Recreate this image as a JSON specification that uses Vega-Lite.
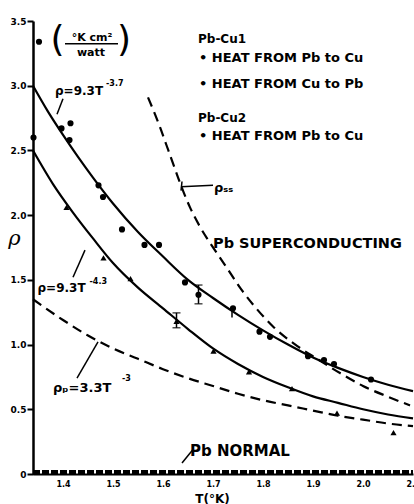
{
  "$schema": "https://vega.github.io/schema/vega-lite/v6.json",
  "width": 380,
  "height": 453,
  "autosize": {"type": "none"},
  "padding": {"left": 33, "top": 21, "right": 1, "bottom": 30},
  "background": "white",
  "config": {
    "font": "DejaVu Sans",
    "view": {"stroke": null},
    "axis": {"grid": false, "domainColor": "black", "tickColor": "black", "labelColor": "black", "titleColor": "black", "labelFont": "DejaVu Sans", "labelFontWeight": "bold"}
  },
  "datasets": {
    "curves": [
      {"curve": "fit1", "T": 1.34, "rho": 3.0}, {"curve": "fit1", "T": 1.37, "rho": 2.8}, {"curve": "fit1", "T": 1.4, "rho": 2.62}, {"curve": "fit1", "T": 1.43, "rho": 2.45}, {"curve": "fit1", "T": 1.46, "rho": 2.29}, {"curve": "fit1", "T": 1.5, "rho": 2.09}, {"curve": "fit1", "T": 1.55, "rho": 1.87}, {"curve": "fit1", "T": 1.6, "rho": 1.68}, {"curve": "fit1", "T": 1.65, "rho": 1.5}, {"curve": "fit1", "T": 1.7, "rho": 1.36}, {"curve": "fit1", "T": 1.75, "rho": 1.23}, {"curve": "fit1", "T": 1.8, "rho": 1.11}, {"curve": "fit1", "T": 1.85, "rho": 1.0}, {"curve": "fit1", "T": 1.9, "rho": 0.9}, {"curve": "fit1", "T": 1.95, "rho": 0.82}, {"curve": "fit1", "T": 2.0, "rho": 0.75}, {"curve": "fit1", "T": 2.05, "rho": 0.69}, {"curve": "fit1", "T": 2.1, "rho": 0.64},
      {"curve": "fit2", "T": 1.34, "rho": 2.5}, {"curve": "fit2", "T": 1.38, "rho": 2.24}, {"curve": "fit2", "T": 1.42, "rho": 2.02}, {"curve": "fit2", "T": 1.46, "rho": 1.82}, {"curve": "fit2", "T": 1.5, "rho": 1.63}, {"curve": "fit2", "T": 1.55, "rho": 1.44}, {"curve": "fit2", "T": 1.6, "rho": 1.28}, {"curve": "fit2", "T": 1.65, "rho": 1.12}, {"curve": "fit2", "T": 1.7, "rho": 0.97}, {"curve": "fit2", "T": 1.75, "rho": 0.85}, {"curve": "fit2", "T": 1.8, "rho": 0.75}, {"curve": "fit2", "T": 1.85, "rho": 0.67}, {"curve": "fit2", "T": 1.9, "rho": 0.6}, {"curve": "fit2", "T": 1.95, "rho": 0.55}, {"curve": "fit2", "T": 2.0, "rho": 0.5}, {"curve": "fit2", "T": 2.05, "rho": 0.46}, {"curve": "fit2", "T": 2.1, "rho": 0.43},
      {"curve": "rho_p", "T": 1.34, "rho": 1.35}, {"curve": "rho_p", "T": 1.4, "rho": 1.19}, {"curve": "rho_p", "T": 1.45, "rho": 1.07}, {"curve": "rho_p", "T": 1.5, "rho": 0.97}, {"curve": "rho_p", "T": 1.55, "rho": 0.89}, {"curve": "rho_p", "T": 1.6, "rho": 0.81}, {"curve": "rho_p", "T": 1.65, "rho": 0.74}, {"curve": "rho_p", "T": 1.7, "rho": 0.68}, {"curve": "rho_p", "T": 1.75, "rho": 0.62}, {"curve": "rho_p", "T": 1.8, "rho": 0.57}, {"curve": "rho_p", "T": 1.85, "rho": 0.53}, {"curve": "rho_p", "T": 1.9, "rho": 0.49}, {"curve": "rho_p", "T": 1.95, "rho": 0.45}, {"curve": "rho_p", "T": 2.0, "rho": 0.42}, {"curve": "rho_p", "T": 2.05, "rho": 0.39}, {"curve": "rho_p", "T": 2.1, "rho": 0.37},
      {"curve": "rho_ss", "T": 1.57, "rho": 2.91}, {"curve": "rho_ss", "T": 1.594, "rho": 2.68}, {"curve": "rho_ss", "T": 1.607, "rho": 2.54}, {"curve": "rho_ss", "T": 1.62, "rho": 2.4}, {"curve": "rho_ss", "T": 1.634, "rho": 2.25}, {"curve": "rho_ss", "T": 1.654, "rho": 2.06}, {"curve": "rho_ss", "T": 1.674, "rho": 1.91}, {"curve": "rho_ss", "T": 1.702, "rho": 1.74}, {"curve": "rho_ss", "T": 1.73, "rho": 1.58}, {"curve": "rho_ss", "T": 1.754, "rho": 1.44}, {"curve": "rho_ss", "T": 1.78, "rho": 1.31}, {"curve": "rho_ss", "T": 1.82, "rho": 1.14}, {"curve": "rho_ss", "T": 1.868, "rho": 0.99}, {"curve": "rho_ss", "T": 1.908, "rho": 0.89}, {"curve": "rho_ss", "T": 1.954, "rho": 0.78}, {"curve": "rho_ss", "T": 2.0, "rho": 0.68}, {"curve": "rho_ss", "T": 2.048, "rho": 0.6}, {"curve": "rho_ss", "T": 2.094, "rho": 0.53},
      {"curve": "normal", "T": 1.34, "rho": 0.012}, {"curve": "normal", "T": 2.1, "rho": 0.012}
    ],
    "points": [
      {"series": "Pb-Cu1 Pb to Cu", "T": 1.352, "rho": 3.34},
      {"series": "Pb-Cu1 Pb to Cu", "T": 1.341, "rho": 2.6},
      {"series": "Pb-Cu1 Pb to Cu", "T": 1.397, "rho": 2.67},
      {"series": "Pb-Cu1 Cu to Pb", "T": 1.415, "rho": 2.71},
      {"series": "Pb-Cu1 Pb to Cu", "T": 1.413, "rho": 2.58},
      {"series": "Pb-Cu1 Pb to Cu", "T": 1.471, "rho": 2.23},
      {"series": "Pb-Cu1 Cu to Pb", "T": 1.48, "rho": 2.14},
      {"series": "Pb-Cu1 Pb to Cu", "T": 1.518, "rho": 1.89},
      {"series": "Pb-Cu1 Pb to Cu", "T": 1.563, "rho": 1.77},
      {"series": "Pb-Cu1 Cu to Pb", "T": 1.592, "rho": 1.77},
      {"series": "Pb-Cu1 Pb to Cu", "T": 1.644, "rho": 1.48},
      {"series": "Pb-Cu1 Pb to Cu", "T": 1.671, "rho": 1.385},
      {"series": "Pb-Cu1 Cu to Pb", "T": 1.74, "rho": 1.28},
      {"series": "Pb-Cu1 Pb to Cu", "T": 1.793, "rho": 1.1},
      {"series": "Pb-Cu1 Cu to Pb", "T": 1.814, "rho": 1.06},
      {"series": "Pb-Cu1 Pb to Cu", "T": 1.89, "rho": 0.91},
      {"series": "Pb-Cu1 Pb to Cu", "T": 1.922, "rho": 0.88},
      {"series": "Pb-Cu1 Cu to Pb", "T": 1.942, "rho": 0.85},
      {"series": "Pb-Cu1 Pb to Cu", "T": 2.016, "rho": 0.73},
      {"series": "Pb-Cu2", "T": 1.407, "rho": 2.06},
      {"series": "Pb-Cu2", "T": 1.481, "rho": 1.67},
      {"series": "Pb-Cu2", "T": 1.535, "rho": 1.51},
      {"series": "Pb-Cu2", "T": 1.627, "rho": 1.18},
      {"series": "Pb-Cu2", "T": 1.701, "rho": 0.95},
      {"series": "Pb-Cu2", "T": 1.772, "rho": 0.79},
      {"series": "Pb-Cu2", "T": 1.858, "rho": 0.66},
      {"series": "Pb-Cu2", "T": 1.948, "rho": 0.47},
      {"series": "Pb-Cu2", "T": 2.061, "rho": 0.32}
    ],
    "errs": [
      {"T": 1.671, "lo": 1.315, "hi": 1.46, "caps": true},
      {"T": 1.627, "lo": 1.13, "hi": 1.245, "caps": true},
      {"T": 1.738, "lo": 1.21, "hi": 1.28, "caps": false}
    ]
  },
  "layer": [
    {
      "data": {"name": "curves"},
      "transform": [{"filter": "datum.curve === 'fit1' || datum.curve === 'fit2'"}],
      "mark": {"type": "line", "color": "black", "strokeWidth": 2.2, "interpolate": "monotone"},
      "encoding": {
        "x": {"field": "T", "type": "quantitative", "scale": {"domain": [1.34, 2.1], "nice": false, "zero": false},
          "axis": {"values": [1.4, 1.5, 1.6, 1.7, 1.8, 1.9, 2.0, 2.1], "format": ".1f", "labelFontSize": 8, "tickSize": 0, "labelPadding": 6, "domainWidth": 2, "labelFlush": false,
            "title": "T(°K)", "titleFontSize": 12, "titleFontWeight": "bold", "titleX": 179, "titleY": 28, "titleBaseline": "alphabetic", "titleAnchor": null, "titleAlign": "center"}},
        "y": {"field": "rho", "type": "quantitative", "scale": {"domain": [0, 3.5], "nice": false, "zero": true},
          "axis": {"values": [0, 0.5, 1, 1.5, 2, 2.5, 3, 3.5], "labelExpr": "datum.value === 0 ? '0' : format(datum.value, '.1f')", "labelFontSize": 9, "tickSize": 6, "tickWidth": 2, "labelPadding": 1, "domainWidth": 2.5,
            "title": "ρ", "titleFont": "DejaVu Serif", "titleFontStyle": "italic", "titleFontWeight": "normal", "titleFontSize": 21, "titleAngle": 0, "titleX": -19, "titleY": 223, "titleAlign": "center", "titleBaseline": "alphabetic"}},
        "detail": {"field": "curve"}
      }
    },
    {
      "data": {"name": "curves"},
      "transform": [{"filter": "datum.curve === 'rho_p' || datum.curve === 'rho_ss'"}],
      "mark": {"type": "line", "color": "black", "strokeWidth": 2.2, "strokeDash": [10, 6], "interpolate": "monotone"},
      "encoding": {"x": {"field": "T", "type": "quantitative"}, "y": {"field": "rho", "type": "quantitative"}, "detail": {"field": "curve"}}
    },
    {
      "data": {"name": "curves"},
      "transform": [{"filter": "datum.curve === 'normal'"}],
      "mark": {"type": "line", "color": "black", "strokeWidth": 5, "strokeDash": [7, 2]},
      "encoding": {"x": {"field": "T", "type": "quantitative"}, "y": {"field": "rho", "type": "quantitative"}}
    },
    {
      "data": {"name": "errs"},
      "mark": {"type": "rule", "color": "black", "strokeWidth": 1.5},
      "encoding": {"x": {"field": "T", "type": "quantitative"}, "y": {"field": "lo", "type": "quantitative"}, "y2": {"field": "hi"}}
    },
    {
      "data": {"name": "errs"},
      "transform": [{"filter": "datum.caps"}],
      "mark": {"type": "tick", "orient": "horizontal", "color": "black", "size": 8, "thickness": 1.5},
      "encoding": {"x": {"field": "T", "type": "quantitative"}, "y": {"field": "lo", "type": "quantitative"}}
    },
    {
      "data": {"name": "errs"},
      "transform": [{"filter": "datum.caps"}],
      "mark": {"type": "tick", "orient": "horizontal", "color": "black", "size": 8, "thickness": 1.5},
      "encoding": {"x": {"field": "T", "type": "quantitative"}, "y": {"field": "hi", "type": "quantitative"}}
    },
    {
      "data": {"name": "points"},
      "transform": [{"filter": "datum.series !== 'Pb-Cu2'"}],
      "mark": {"type": "point", "shape": "circle", "filled": true, "color": "black", "size": 38, "opacity": 1},
      "encoding": {"x": {"field": "T", "type": "quantitative"}, "y": {"field": "rho", "type": "quantitative"}}
    },
    {
      "data": {"name": "points"},
      "transform": [{"filter": "datum.series === 'Pb-Cu2'"}],
      "mark": {"type": "point", "shape": "triangle-up", "filled": true, "color": "black", "size": 38, "opacity": 1},
      "encoding": {"x": {"field": "T", "type": "quantitative"}, "y": {"field": "rho", "type": "quantitative"}}
    },
    {
      "data": {"values": [{}]},
      "mark": {"type": "rule", "color": "black", "strokeWidth": 1.5},
      "encoding": {"x": {"datum": 1.388}, "x2": {"datum": 1.4}, "y": {"datum": 2.78}, "y2": {"datum": 2.9}}
    },
    {
      "data": {"values": [{}]},
      "mark": {"type": "rule", "color": "black", "strokeWidth": 1.5},
      "encoding": {"x": {"datum": 1.42}, "x2": {"datum": 1.444}, "y": {"datum": 1.52}, "y2": {"datum": 1.73}}
    },
    {
      "data": {"values": [{}]},
      "mark": {"type": "rule", "color": "black", "strokeWidth": 1.5},
      "encoding": {"x": {"datum": 1.428}, "x2": {"datum": 1.47}, "y": {"datum": 0.74}, "y2": {"datum": 1.02}}
    },
    {
      "data": {"values": [{}]},
      "mark": {"type": "rule", "color": "black", "strokeWidth": 1.5},
      "encoding": {"x": {"datum": 1.636}, "x2": {"datum": 1.7}, "y": {"datum": 2.22}, "y2": {"datum": 2.23}}
    },
    {
      "data": {"values": [{}]},
      "mark": {"type": "rule", "color": "black", "strokeWidth": 1.5},
      "encoding": {"x": {"datum": 1.636}, "x2": {"datum": 1.638}, "y": {"datum": 2.19}, "y2": {"datum": 2.26}}
    },
    {
      "data": {"values": [{}]},
      "mark": {"type": "rule", "color": "black", "strokeWidth": 1.5},
      "encoding": {"x": {"datum": 1.638}, "x2": {"datum": 1.66}, "y": {"datum": 0.085}, "y2": {"datum": 0.19}}
    },
    {
      "data": {"values": [{}]},
      "mark": {"type": "rule", "color": "black", "strokeWidth": 1.5},
      "encoding": {"x": {"datum": 1.404}, "x2": {"datum": 1.51}, "y": {"datum": 3.325}, "y2": {"datum": 3.325}}
    },
    {
      "data": {"values": [{}]},
      "mark": {"type": "text", "align": "left", "baseline": "alphabetic", "fontSize": 12, "fontWeight": "bold", "text": "ρ=9.3T"},
      "encoding": {"x": {"datum": 1.384}, "y": {"datum": 2.93}}
    },
    {
      "data": {"values": [{}]},
      "mark": {"type": "text", "align": "left", "baseline": "alphabetic", "fontSize": 8, "fontWeight": "bold", "text": "-3.7"},
      "encoding": {"x": {"datum": 1.486}, "y": {"datum": 3.0}}
    },
    {
      "data": {"values": [{}]},
      "mark": {"type": "text", "align": "left", "baseline": "alphabetic", "fontSize": 12, "fontWeight": "bold", "text": "ρ=9.3T"},
      "encoding": {"x": {"datum": 1.349}, "y": {"datum": 1.41}}
    },
    {
      "data": {"values": [{}]},
      "mark": {"type": "text", "align": "left", "baseline": "alphabetic", "fontSize": 8, "fontWeight": "bold", "text": "-4.3"},
      "encoding": {"x": {"datum": 1.453}, "y": {"datum": 1.47}}
    },
    {
      "data": {"values": [{}]},
      "mark": {"type": "text", "align": "left", "baseline": "alphabetic", "fontSize": 13, "fontWeight": "bold", "text": "ρₚ=3.3T"},
      "encoding": {"x": {"datum": 1.38}, "y": {"datum": 0.63}}
    },
    {
      "data": {"values": [{}]},
      "mark": {"type": "text", "align": "left", "baseline": "alphabetic", "fontSize": 8, "fontWeight": "bold", "text": "-3"},
      "encoding": {"x": {"datum": 1.518}, "y": {"datum": 0.72}}
    },
    {
      "data": {"values": [{}]},
      "mark": {"type": "text", "align": "left", "baseline": "alphabetic", "fontSize": 13, "fontWeight": "bold", "text": "ρₛₛ"},
      "encoding": {"x": {"datum": 1.702}, "y": {"datum": 2.18}}
    },
    {
      "data": {"values": [{}]},
      "mark": {"type": "text", "align": "left", "baseline": "alphabetic", "fontSize": 14.5, "fontWeight": "bold", "text": "Pb SUPERCONDUCTING"},
      "encoding": {"x": {"datum": 1.7}, "y": {"datum": 1.75}}
    },
    {
      "data": {"values": [{}]},
      "mark": {"type": "text", "align": "left", "baseline": "alphabetic", "fontSize": 15, "fontWeight": "bold", "text": "Pb NORMAL"},
      "encoding": {"x": {"datum": 1.654}, "y": {"datum": 0.14}}
    },
    {
      "data": {"values": [{}]},
      "mark": {"type": "text", "align": "left", "baseline": "alphabetic", "fontSize": 12, "fontWeight": "bold", "text": "Pb-Cu1"},
      "encoding": {"x": {"datum": 1.67}, "y": {"datum": 3.33}}
    },
    {
      "data": {"values": [{}]},
      "mark": {"type": "text", "align": "left", "baseline": "alphabetic", "fontSize": 13, "fontWeight": "bold", "text": "• HEAT FROM Pb to Cu"},
      "encoding": {"x": {"datum": 1.672}, "y": {"datum": 3.186}}
    },
    {
      "data": {"values": [{}]},
      "mark": {"type": "text", "align": "left", "baseline": "alphabetic", "fontSize": 13, "fontWeight": "bold", "text": "• HEAT FROM Cu to Pb"},
      "encoding": {"x": {"datum": 1.672}, "y": {"datum": 2.985}}
    },
    {
      "data": {"values": [{}]},
      "mark": {"type": "text", "align": "left", "baseline": "alphabetic", "fontSize": 12, "fontWeight": "bold", "text": "Pb-Cu2"},
      "encoding": {"x": {"datum": 1.67}, "y": {"datum": 2.72}}
    },
    {
      "data": {"values": [{}]},
      "mark": {"type": "text", "align": "left", "baseline": "alphabetic", "fontSize": 13, "fontWeight": "bold", "text": "• HEAT FROM Pb to Cu"},
      "encoding": {"x": {"datum": 1.672}, "y": {"datum": 2.583}}
    },
    {
      "data": {"values": [{}]},
      "mark": {"type": "text", "align": "center", "baseline": "alphabetic", "fontSize": 11, "fontWeight": "bold", "text": "°K cm²"},
      "encoding": {"x": {"datum": 1.458}, "y": {"datum": 3.345}}
    },
    {
      "data": {"values": [{}]},
      "mark": {"type": "text", "align": "center", "baseline": "alphabetic", "fontSize": 11, "fontWeight": "bold", "text": "watt"},
      "encoding": {"x": {"datum": 1.456}, "y": {"datum": 3.23}}
    },
    {
      "data": {"values": [{}]},
      "mark": {"type": "text", "align": "center", "baseline": "alphabetic", "fontSize": 36, "fontWeight": "normal", "text": "("},
      "encoding": {"x": {"datum": 1.389}, "y": {"datum": 3.27}}
    },
    {
      "data": {"values": [{}]},
      "mark": {"type": "text", "align": "center", "baseline": "alphabetic", "fontSize": 36, "fontWeight": "normal", "text": ")"},
      "encoding": {"x": {"datum": 1.522}, "y": {"datum": 3.27}}
    }
  ]
}
